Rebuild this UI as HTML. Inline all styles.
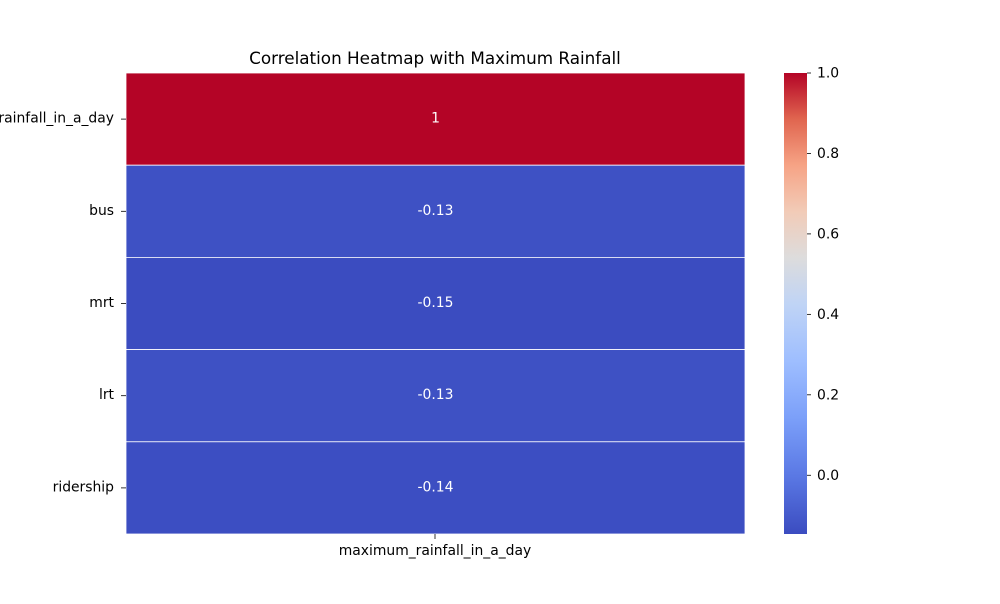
<!DOCTYPE html>
<html><head><meta charset="utf-8"><style>
body{margin:0;background:#fff;font-family:"DejaVu Sans","Liberation Sans",sans-serif;}
</style></head><body>
<svg id="chart" width="1000" height="600" xmlns="http://www.w3.org/2000/svg" font-family="DejaVu Sans, Liberation Sans, sans-serif">
<defs>
<linearGradient id="cw" x1="0" y1="1" x2="0" y2="0">
<stop offset="0" stop-color="#3b4cc0"/><stop offset="0.125" stop-color="#5a78e4"/>
<stop offset="0.25" stop-color="#7b9ff9"/><stop offset="0.375" stop-color="#9ebeff"/>
<stop offset="0.5" stop-color="#c0d4f5"/><stop offset="0.6" stop-color="#dddcdc"/>
<stop offset="0.7" stop-color="#f2cbb7"/><stop offset="0.8" stop-color="#f6a385"/>
<stop offset="0.9" stop-color="#e0654f"/><stop offset="1" stop-color="#b40426"/>
</linearGradient>
</defs>
<text x="435" y="64" text-anchor="middle" font-size="16.8">Correlation Heatmap with Maximum Rainfall</text>
<g id="cells"></g>
<g id="ylabels"></g>
<line x1="435" y1="534" x2="435" y2="539" stroke="#000" stroke-width="0.8"/>
<text x="435" y="555" text-anchor="middle" font-size="13.9">maximum_rainfall_in_a_day</text>
<rect x="784" y="73" width="23" height="461" fill="url(#cw)"/>
<g id="cbticks"></g>
</svg>
<script>
const rows=["maximum_rainfall_in_a_day","bus","mrt","lrt","ridership"];
const values=[1,-0.13,-0.15,-0.13,-0.14];
const labels=["1","-0.13","-0.15","-0.13","-0.14"];
const cbTicks=[0,0.2,0.4,0.6,0.8,1.0];
const vmin=-0.146,vmax=1;
const NS="http://www.w3.org/2000/svg";
const x0=126,x1=745,y0=73,y1=534;
const rh=(y1-y0)/rows.length;
const stops=[[0,[59,76,192]],[0.125,[90,120,228]],[0.25,[123,159,249]],[0.375,[158,190,255]],[0.5,[192,212,245]],[0.6,[221,220,220]],[0.7,[242,203,183]],[0.8,[246,163,133]],[0.9,[224,101,79]],[1,[180,4,38]]];
function cmap(v){let t=Math.max(0,Math.min(1,(v-vmin)/(vmax-vmin)));
for(let i=1;i<stops.length;i++){if(t<=stops[i][0]){const a=stops[i-1],b=stops[i];const f=(t-a[0])/(b[0]-a[0]);
return "rgb("+a[1].map((c,j)=>Math.round(c+(b[1][j]-c)*f)).join(",")+")";}}return "rgb(180,4,38)";}
function yScale(v){return y1-(v-vmin)/(vmax-vmin)*(y1-y0);}
const cells=document.getElementById("cells"),yl=document.getElementById("ylabels"),cb=document.getElementById("cbticks");
rows.forEach((r,i)=>{
 const y=y0+i*rh;
 const rc=document.createElementNS(NS,"rect");
 rc.setAttribute("x",x0);rc.setAttribute("y",y);rc.setAttribute("width",x1-x0);rc.setAttribute("height",rh);
 rc.setAttribute("fill",cmap(values[i]));rc.setAttribute("stroke","#fff");rc.setAttribute("stroke-width","0.8");
 
 
 cells.appendChild(rc);
 const t=document.createElementNS(NS,"text");
 t.setAttribute("x",(x0+x1)/2);t.setAttribute("y",y+rh/2+3.5);t.setAttribute("text-anchor","middle");t.setAttribute("font-size","13.9");t.setAttribute("fill","#fff");
 t.textContent=labels[i];
 
 
 cells.appendChild(t);
 const tk=document.createElementNS(NS,"line");
 tk.setAttribute("x1",121);tk.setAttribute("x2",126);tk.setAttribute("y1",y+rh/2);tk.setAttribute("y2",y+rh/2);tk.setAttribute("stroke","#000");tk.setAttribute("stroke-width","0.8");
 yl.appendChild(tk);
 const l=document.createElementNS(NS,"text");
 l.setAttribute("x",114);l.setAttribute("y",y+rh/2+3.5);l.setAttribute("text-anchor","end");l.setAttribute("font-size","13.9");
 l.textContent=r;
 
 
 yl.appendChild(l);
});
cbTicks.forEach(v=>{
 const y=yScale(v);
 const tk=document.createElementNS(NS,"line");
 tk.setAttribute("x1",807);tk.setAttribute("x2",811);tk.setAttribute("y1",y);tk.setAttribute("y2",y);tk.setAttribute("stroke","#000");tk.setAttribute("stroke-width","0.8");
 cb.appendChild(tk);
 const t=document.createElementNS(NS,"text");
 t.setAttribute("x",817);t.setAttribute("y",y+4.5);t.setAttribute("font-size","13.9");
 t.textContent=v.toFixed(1);
 
 
 cb.appendChild(t);
});
</script>
</body></html>
